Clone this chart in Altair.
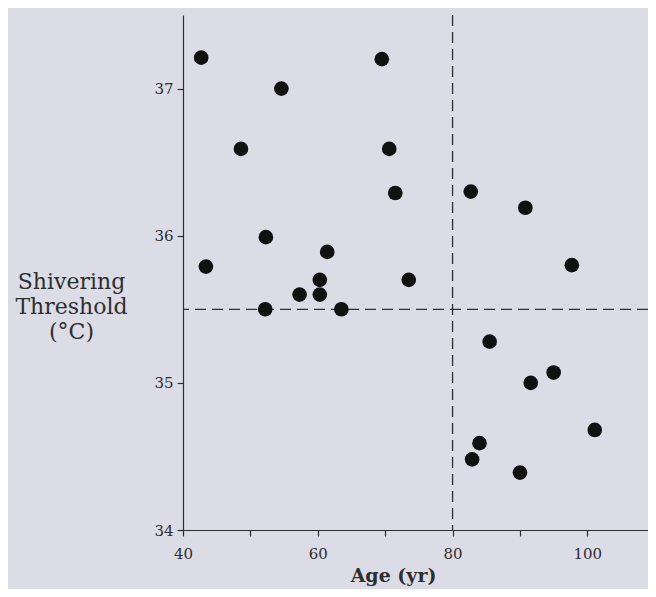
import altair as alt
import pandas as pd

age = [42.7, 69.5, 54.6, 48.6, 70.6, 71.5, 82.7, 90.8, 52.3, 61.4, 43.4, 97.7,
       60.3, 73.5, 57.3, 60.3, 52.2, 63.5, 85.5, 95.0, 91.6, 101.1, 84.0, 82.9, 90.0]
threshold = [37.21, 37.2, 37.0, 36.59, 36.59, 36.29, 36.3, 36.19, 35.99, 35.89, 35.79, 35.8,
             35.70, 35.70, 35.60, 35.60, 35.5, 35.5, 35.28, 35.07, 35.0, 34.68, 34.59, 34.48, 34.39]
age_cut = [80]
threshold_cut = [35.5]
x_ticks = [40, 50, 60, 70, 80, 90, 100]
y_ticks = [34, 34.5, 35, 35.5, 36, 36.5, 37, 37.5]

df = pd.DataFrame({"age": age, "thr": threshold})
FONT = "DejaVu Serif"
INK = "#2e2e2e"

xscale = alt.Scale(domain=[40, 109], nice=False, zero=False)
yscale = alt.Scale(domain=[34, 37.5], nice=False, zero=False)

xaxis = alt.Axis(values=x_ticks, format="d",
                 labelExpr="datum.value % 20 == 0 ? datum.label : ''",
                 title="Age (yr)", titleFont=FONT, titleFontSize=19, titleFontWeight="bold",
                 titleColor=INK, titleX=210, titleY=51, titleAlign="center",
                 titleBaseline="alphabetic", titleAnchor="start",
                 labelFont=FONT, labelFontSize=15, labelColor=INK, labelPadding=10,
                 labelFlush=False, grid=False, domainColor=INK, domainWidth=1.2,
                 tickColor=INK, tickWidth=1.2, tickSize=6)
yaxis = alt.Axis(values=y_ticks, format="d",
                 labelExpr="datum.value % 1 == 0 ? datum.label : ''",
                 title=["Shivering", "Threshold", "(°C)"], titleFont=FONT, titleFontSize=22,
                 titleFontWeight="normal", titleColor=INK, titleAngle=0, titleAlign="center",
                 titleBaseline="alphabetic", titleX=-112, titleY=273, titleLineHeight=25,
                 titleAnchor="start",
                 labelFont=FONT, labelFontSize=15, labelColor=INK, labelPadding=4,
                 labelFlush=False, grid=False, domainColor=INK, domainWidth=1.2,
                 tickColor=INK, tickWidth=1.2, tickSize=6)

points = alt.Chart(df).mark_circle(size=215, color="#111111", opacity=1).encode(
    x=alt.X("age:Q", scale=xscale, axis=xaxis),
    y=alt.Y("thr:Q", scale=yscale, axis=yaxis),
)

vline = alt.Chart(pd.DataFrame({"age": age_cut})).mark_rule(
    color=INK, strokeWidth=1.3, strokeDash=[11, 6]).encode(x=alt.X("age:Q", scale=xscale))
hline = alt.Chart(pd.DataFrame({"thr": threshold_cut})).mark_rule(
    color=INK, strokeWidth=1.3, strokeDash=[11, 6]).encode(y=alt.Y("thr:Q", scale=yscale))

chart = alt.layer(vline, hline, points).properties(
    width=465, height=515,
    autosize=alt.AutoSizeParams(type="none"),
    padding={"left": 175, "top": 7, "right": 0, "bottom": 59},
    background="#dcdce6",
).configure_view(stroke=None)

chart.save("out.html", embed_options={"renderer": "svg", "actions": False})
